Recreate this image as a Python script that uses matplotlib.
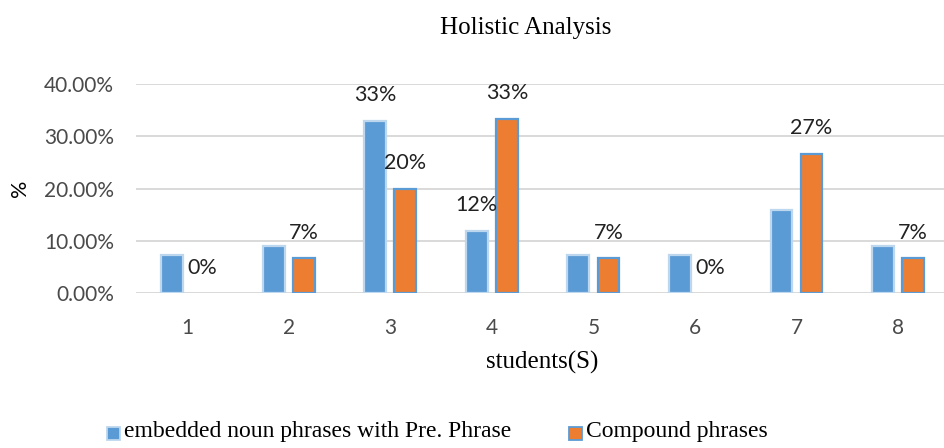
import matplotlib
matplotlib.use("Agg")
import matplotlib.pyplot as plt
from matplotlib.patches import Rectangle
from matplotlib.ticker import FuncFormatter
import numpy as np

# Chart data
students = ["1", "2", "3", "4", "5", "6", "7", "8"]
embedded_np = [0.073, 0.091, 0.329, 0.12, 0.073, 0.073, 0.159, 0.091]
compound = [0.0, 0.0667, 0.20, 0.3333, 0.0667, 0.0, 0.2667, 0.0667]
# which students get a value label on the embedded-phrase bar
embedded_labelled = [False, False, True, True, False, False, False, False]
y_ticks = [0.0, 0.10, 0.20, 0.30, 0.40]
series_names = ["embedded noun phrases with Pre. Phrase", "Compound phrases"]

BLUE = "#5B9BD5"
BLUE_EDGE = "#BDD7EE"
ORANGE = "#ED7D31"
GRID = "#D9D9D9"
TICK_GREY = "#4A4A4A"
LABEL_GREY = "#222222"

sans = ["Lato", "DejaVu Sans"]
serif = ["Liberation Serif", "DejaVu Serif"]

W, H = 945, 448
fig = plt.figure(figsize=(W / 100, H / 100), dpi=100)

left_px, bottom_px, top_px = 136.5, 293.3, 84.0
ax = fig.add_axes([left_px / W, (H - bottom_px) / H, 1 - left_px / W,
                   (bottom_px - top_px) / H])

x = np.arange(1, len(students) + 1)
bw = 0.215
off = 0.148
b1 = ax.bar(x - off, embedded_np, width=bw, color=BLUE, edgecolor=BLUE_EDGE,
            linewidth=1.6, zorder=3)
b2 = ax.bar(x + off, compound, width=bw, color=ORANGE, edgecolor=BLUE,
            linewidth=1.6, zorder=3)
# empty bars leave no outline behind
for rect, v in zip(b2, compound):
    if v == 0:
        rect.set_linewidth(0)

ax.set_xlim(0.5, 1 + (W - 187.5) / 101.5)
ax.set_ylim(0, 0.40)
ax.set_yticks(y_ticks)
ax.yaxis.set_major_formatter(FuncFormatter(lambda v, p: f"{v * 100:.2f}%"))
ax.set_xticks(x)
ax.set_xticklabels(students)

for s in ax.spines.values():
    s.set_visible(False)
ax.grid(axis="y", color=GRID, linewidth=1.4, zorder=0)
ax.set_axisbelow(True)
ax.tick_params(axis="both", length=0, labelsize=15, labelcolor=TICK_GREY)
ax.tick_params(axis="y", pad=16)
ax.tick_params(axis="x", pad=18)
for lab in ax.get_xticklabels() + ax.get_yticklabels():
    lab.set_family(sans)

# value labels above bars
for xi, v, show in zip(x, embedded_np, embedded_labelled):
    if show:
        ax.annotate(f"{v:.0%}", (xi - off, v), xytext=(0, 18.5),
                    textcoords="offset points", ha="center", va="center",
                    fontsize=15.5, color=LABEL_GREY, family=sans, zorder=4)
for xi, v in zip(x, compound):
    ax.annotate(f"{v:.0%}", (xi + off, v), xytext=(0, 18.5),
                textcoords="offset points", ha="center", va="center",
                fontsize=15.5, color=LABEL_GREY, family=sans, zorder=4)

# titles
fig.text(526 / W, 1 - 28 / H, "Holistic Analysis", ha="center", va="center",
         fontsize=18, family=serif, color="black")
fig.text(542 / W, 1 - 362 / H, "students(S)", ha="center", va="center",
         fontsize=18, family=serif, color="black")
fig.text(20 / W, 1 - 188 / H, "%", ha="center", va="center", rotation=90,
         fontsize=15.5, family=sans, color="black")

# legend
def legend_item(x0, face, edge, text):
    sq = 13
    fig.patches.append(Rectangle((x0 / W, 1 - (433.5 + sq / 2) / H), sq / W, sq / H,
                                 transform=fig.transFigure, facecolor=face,
                                 edgecolor=edge, linewidth=1.3))
    fig.text((x0 + sq + 4) / W, 1 - 431 / H, text, ha="left", va="center",
             fontsize=17, family=serif, color="black")

legend_item(107, BLUE, BLUE_EDGE, series_names[0])
legend_item(569, ORANGE, BLUE, series_names[1])

fig.savefig("out.png", dpi=100)
